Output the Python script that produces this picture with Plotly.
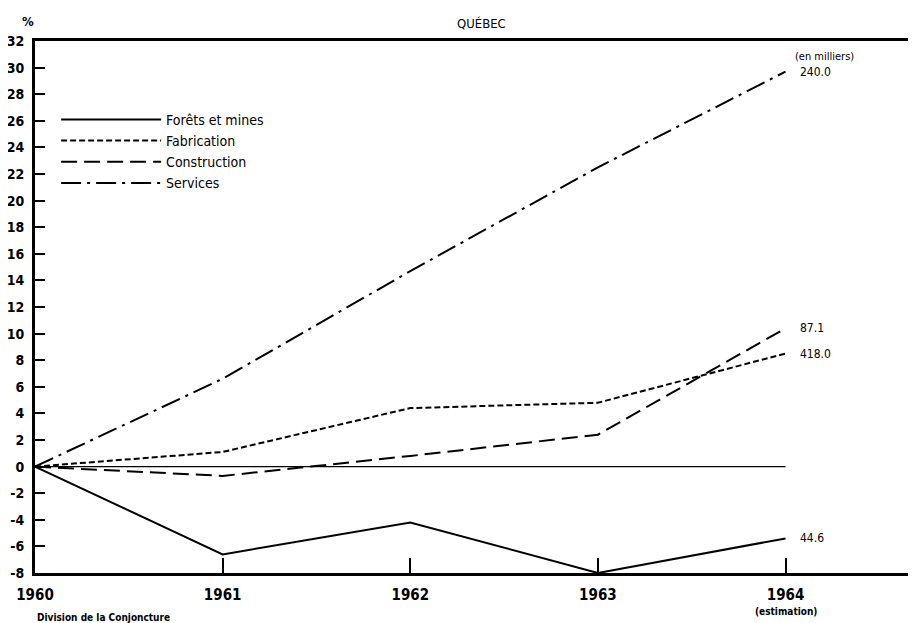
import plotly.graph_objects as go

years = [1960, 1961, 1962, 1963, 1964]
forets = [0, -6.6, -4.2, -8.0, -5.4]
fabrication = [0, 1.1, 4.4, 4.8, 8.5]
construction = [0, -0.7, 0.8, 2.4, 10.4]
services = [0, 6.6, 14.7, 22.5, 29.7]

series_names = ["Forêts et mines", "Fabrication", "Construction", "Services"]
end_labels = ["44.6", "418.0", "87.1", "240.0"]
y_ticks = list(range(-8, 33, 2))
x_ticktext = ["<b>1960</b>", "<b>1961</b>", "<b>1962</b>", "<b>1963</b>", "<b>1964</b>"]

FONT = "DejaVu Sans Condensed, DejaVu Sans, sans-serif"
dashes = ["solid", "6px,3px", "16px,7px", "20px,6px,3px,6px"]
data = [forets, fabrication, construction, services]

fig = go.Figure()
fig.add_trace(go.Scatter(x=[years[0], years[-1]], y=[0, 0], mode="lines",
                         line=dict(color="black", width=1.3), showlegend=False, hoverinfo="skip"))
for name, vals, d in zip(series_names, data, dashes):
    fig.add_trace(go.Scatter(x=years, y=vals, mode="lines", name=name,
                             line=dict(color="black", width=2, dash=d)))

for name, vals, lab in zip(series_names, data, end_labels):
    fig.add_annotation(x=years[-1], y=vals[-1], text=lab, showarrow=False,
                       xanchor="left", yanchor="middle", xshift=12,
                       font=dict(family=FONT, size=12, color="black"))
fig.add_annotation(x=years[-1], y=services[-1], yshift=15, text="(en milliers)", showarrow=False,
                   xanchor="left", yanchor="middle", xshift=7, font=dict(family=FONT, size=11, color="black"))
fig.add_annotation(x=years[-1], y=-8, yshift=-38, text="<b>(estimation)</b>", showarrow=False,
                   yanchor="middle", font=dict(family=FONT, size=10, color="black"))

fig.add_annotation(xref="paper", yref="paper", x=0.507, y=1.0, yshift=18, text="QUÉBEC",
                   showarrow=False, yanchor="middle", xanchor="center",
                   font=dict(family=FONT, size=13, color="black"))
fig.add_annotation(xref="paper", yref="paper", x=0.0, y=1.0, xshift=-7, yshift=20, text="<b>%</b>",
                   showarrow=False, yanchor="middle", xanchor="center",
                   font=dict(family=FONT, size=13, color="black"))
fig.add_annotation(xref="paper", yref="paper", x=0.0, y=0.0, yshift=-44,
                   text="<b>Division de la Conjoncture</b>", showarrow=False,
                   xanchor="left", yanchor="middle", font=dict(family=FONT, size=10, color="black"))

# the page body adds an 8px offset; size and margins compensate so the plot sits as in the reference
fig.update_layout(
    width=908, height=615,
    margin=dict(l=27, r=1, t=33, b=50),
    plot_bgcolor="white", paper_bgcolor="white",
    font=dict(family=FONT, size=14, color="black"),
    legend=dict(x=0.024, y=0.882, xanchor="left", yanchor="top", bgcolor="rgba(0,0,0,0)",
                font=dict(family=FONT, size=14), itemwidth=100, tracegroupgap=0),
    xaxis=dict(range=[1960, 1964.69], tickvals=years, ticktext=x_ticktext,
               ticks="inside", ticklen=15, tickwidth=1.5, tickcolor="black",
               showline=True, linecolor="black", linewidth=3, mirror=True,
               showgrid=False, zeroline=False, automargin=False, ticklabelstandoff=6,
               tickfont=dict(family=FONT, size=15, color="black")),
    yaxis=dict(range=[-8, 32], tickvals=y_ticks, ticktext=["<b>%d</b>" % v for v in y_ticks],
               ticks="inside", ticklen=10, tickwidth=2, tickcolor="black",
               showline=True, linecolor="black", linewidth=3, mirror=True,
               showgrid=False, zeroline=False, automargin=False, ticklabelstandoff=5,
               tickfont=dict(family=FONT, size=14, color="black")),
)
fig.write_html("out.html")
